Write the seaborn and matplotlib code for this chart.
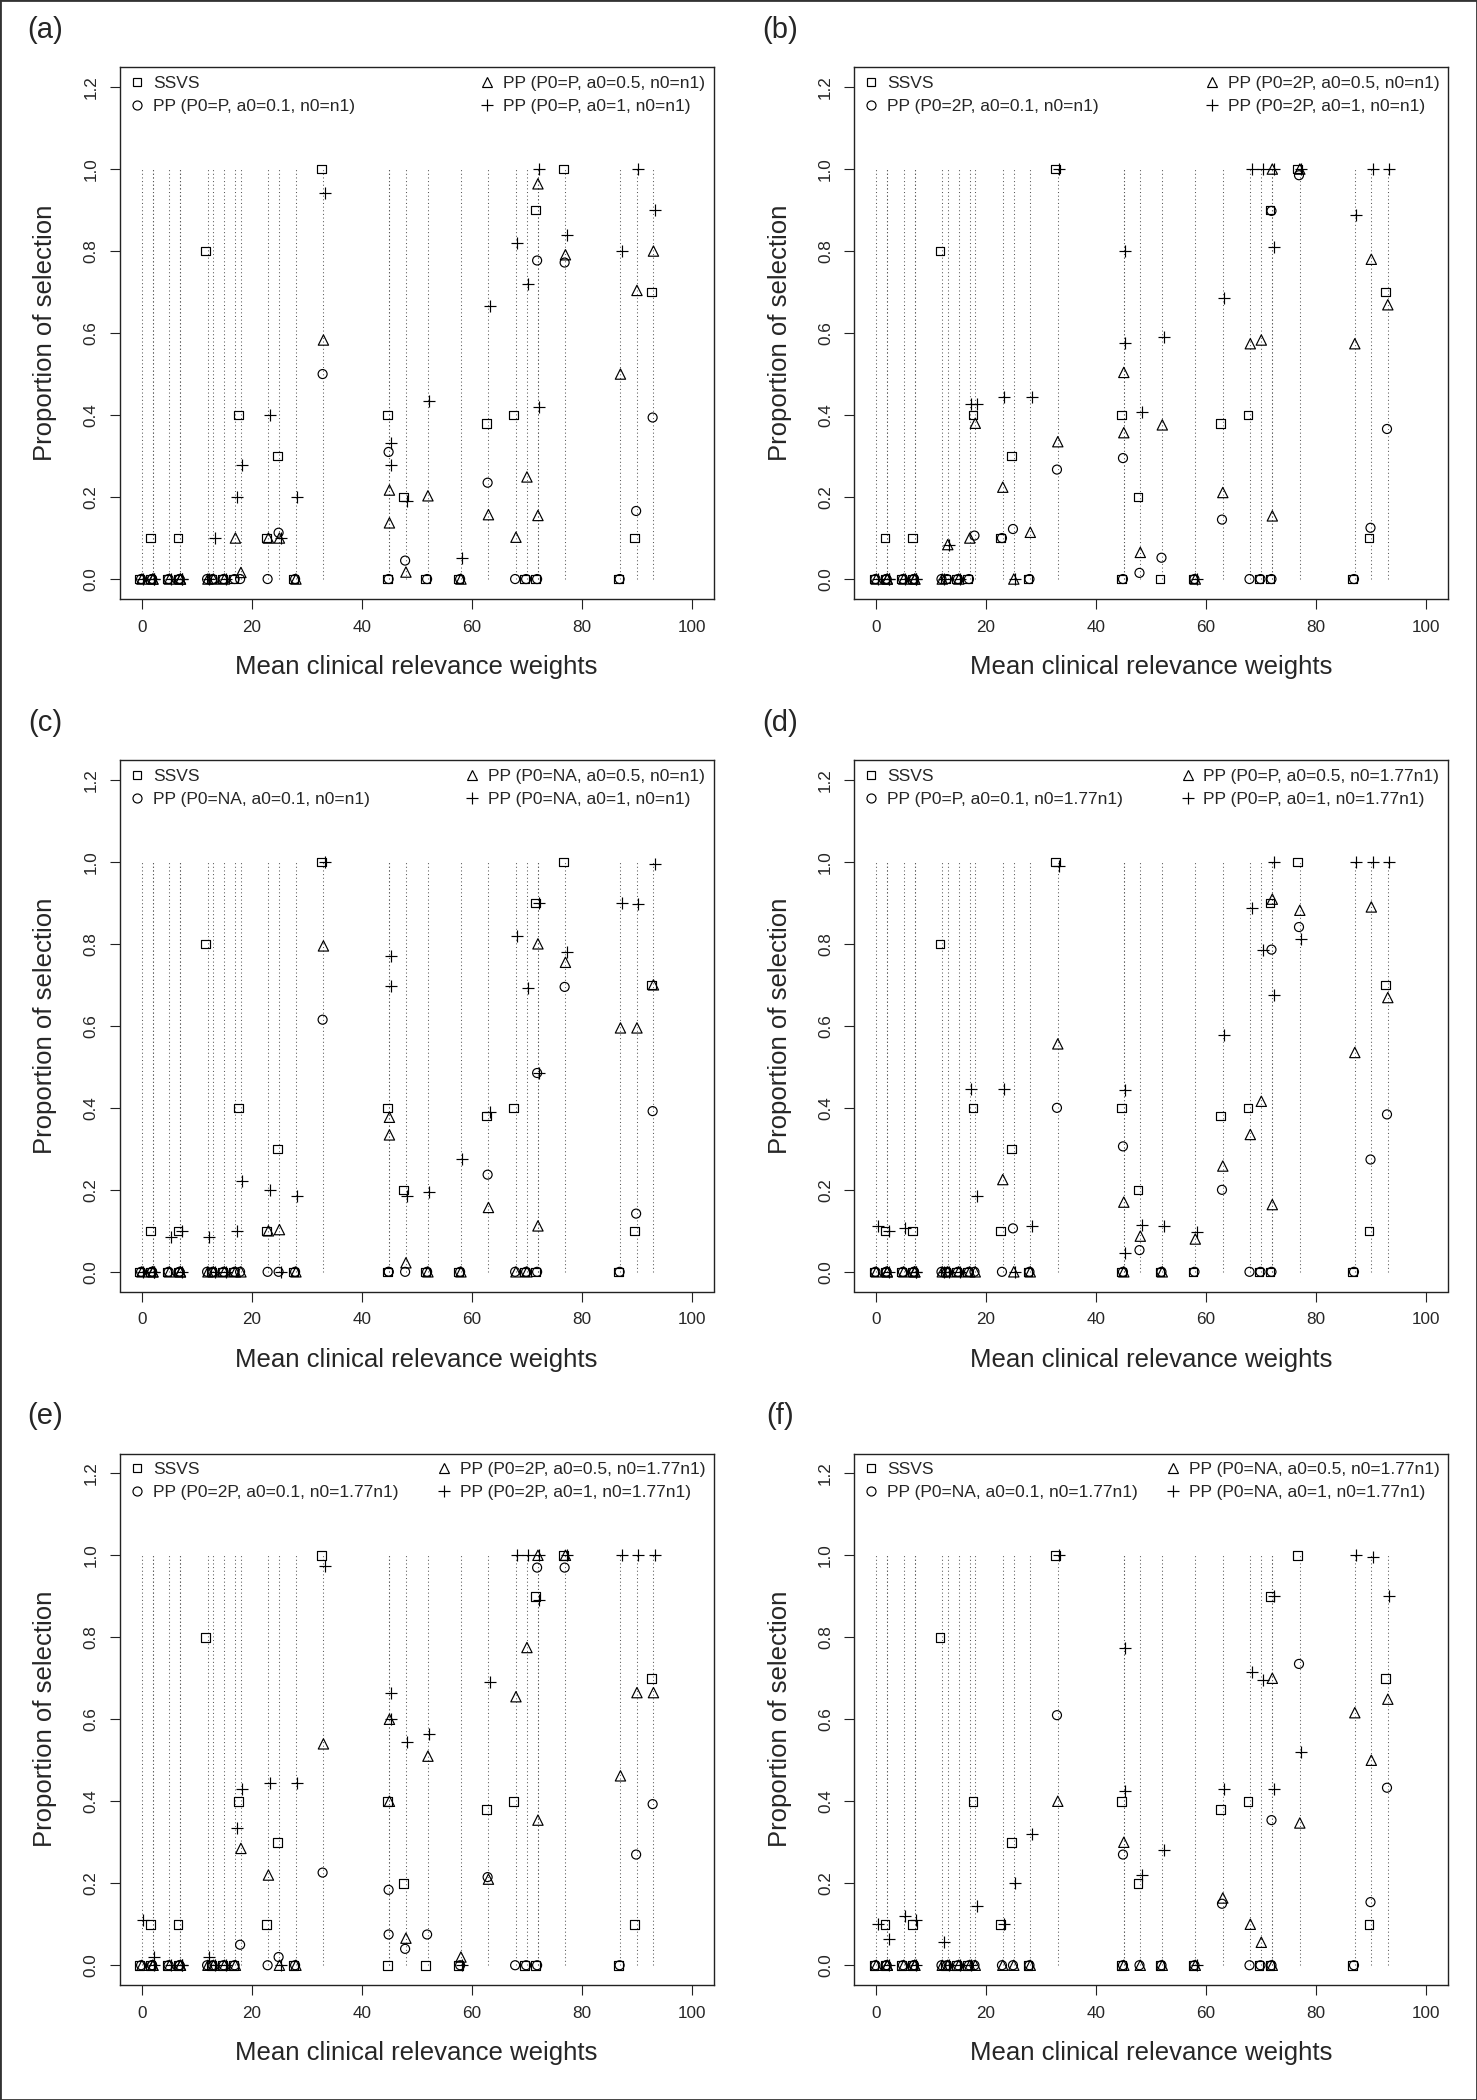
import matplotlib
matplotlib.use("Agg")
import matplotlib.pyplot as plt
from matplotlib.lines import Line2D
from matplotlib.patches import Rectangle
import numpy as np
import seaborn as sns

# variable positions (mean clinical relevance weight); some weights occur twice
weights = [0, 2, 2, 5, 7, 7, 12, 13, 15, 17, 18, 23, 25, 28, 33,
           45, 45, 48, 52, 58, 63, 68, 70, 72, 72, 77, 87, 90, 93]

# SSVS is the same in every panel
ssvs = [0, 0.1, 0, 0, 0.1, 0, 0.8, 0, 0, 0, 0.4, 0.1, 0.3, 0, 1.0,
        0.4, 0, 0.2, 0, 0, 0.38, 0.4, 0, 0.9, 0, 1.0, 0, 0.1, 0.7]

# (a) P0=P, n0=n1
pp01_a = [0, 0, 0, 0, 0, 0, 0, 0, 0, 0, 0, 0, 0.113, 0, 0.5,
          0.31, 0, 0.045, 0, 0, 0.235, 0, 0, 0.777, 0, 0.772, 0, 0.166, 0.394]
pp05_a = [0, 0, 0, 0, 0, 0, 0, 0, 0, 0.1, 0.016, 0.1, 0.1, 0, 0.583,
          0.217, 0.137, 0.017, 0.203, 0, 0.157, 0.102, 0.249, 0.964, 0.155, 0.791, 0.5, 0.704, 0.8]
pp1_a = [0, 0, 0, 0, 0, 0, 0, 0.1, 0, 0.2, 0.278, 0.4, 0.1, 0.2, 0.941,
         0.332, 0.278, 0.19, 0.435, 0.052, 0.667, 0.82, 0.72, 1.0, 0.419, 0.839, 0.8, 1.0, 0.9]

# (b) P0=2P, n0=n1
pp01_b = [0, 0, 0, 0, 0, 0, 0, 0, 0, 0, 0.106, 0.1, 0.122, 0, 0.267,
          0.295, 0, 0.015, 0.052, 0, 0.145, 0, 0, 0.898, 0, 0.985, 0, 0.125, 0.366]
pp05_b = [0, 0, 0, 0, 0, 0, 0, 0.084, 0, 0.1, 0.38, 0.224, 0, 0.114, 0.335,
          0.504, 0.357, 0.065, 0.376, 0, 0.211, 0.574, 0.583, 1.0, 0.154, 1.0, 0.574, 0.78, 0.669]
pp1_b = [0, 0, 0, 0, 0, 0, 0, 0.084, 0, 0.426, 0.426, 0.444, 0, 0.444, 1.0,
         0.8, 0.575, 0.407, 0.591, 0, 0.686, 1.0, 1.0, 1.0, 0.809, 1.0, 0.889, 1.0, 1.0]

# (c) P0=NA, n0=n1
pp01_c = [0, 0, 0, 0, 0, 0, 0, 0, 0, 0, 0, 0, 0, 0, 0.615,
          0, 0, 0, 0, 0, 0.237, 0, 0, 0.485, 0, 0.695, 0, 0.142, 0.392]
pp05_c = [0, 0, 0, 0, 0, 0, 0, 0, 0, 0, 0, 0.1, 0.103, 0, 0.795,
          0.377, 0.334, 0.022, 0, 0, 0.157, 0, 0, 0.8, 0.112, 0.755, 0.595, 0.595, 0.7]
pp1_c = [0, 0, 0, 0.085, 0.1, 0, 0.084, 0, 0, 0.1, 0.222, 0.2, 0, 0.184, 1.0,
         0.771, 0.697, 0.184, 0.195, 0.276, 0.39, 0.818, 0.692, 0.9, 0.485, 0.78, 0.9, 0.897, 0.996]

# (d) P0=P, n0=1.77n1
pp01_d = [0, 0, 0, 0, 0, 0, 0, 0, 0, 0, 0, 0, 0.106, 0, 0.4,
          0.306, 0, 0.053, 0, 0, 0.2, 0, 0, 0.786, 0, 0.841, 0, 0.274, 0.384]
pp05_d = [0, 0, 0, 0, 0, 0, 0, 0, 0, 0, 0, 0.225, 0, 0, 0.556,
          0.17, 0, 0.087, 0, 0.08, 0.258, 0.335, 0.416, 0.909, 0.164, 0.882, 0.535, 0.89, 0.669]
pp1_d = [0.111, 0.1, 0, 0.106, 0, 0, 0, 0, 0, 0.445, 0.184, 0.445, 0, 0.111, 0.99,
         0.444, 0.047, 0.115, 0.111, 0.096, 0.578, 0.888, 0.786, 1.0, 0.675, 0.812, 1.0, 1.0, 1.0]

# (e) P0=2P, n0=1.77n1
pp01_e = [0, 0, 0, 0, 0, 0, 0, 0, 0, 0, 0.05, 0, 0.02, 0, 0.226,
          0.184, 0.075, 0.04, 0.075, 0, 0.215, 0, 0, 0.97, 0, 0.97, 0, 0.27, 0.393]
pp05_e = [0, 0, 0, 0, 0, 0, 0, 0, 0, 0, 0.285, 0.22, 0, 0, 0.54,
          0.6, 0.4, 0.066, 0.51, 0.02, 0.21, 0.655, 0.775, 1.0, 0.354, 1.0, 0.462, 0.665, 0.665]
pp1_e = [0.11, 0.02, 0, 0, 0, 0, 0.02, 0, 0, 0.335, 0.43, 0.445, 0, 0.445, 0.975,
         0.665, 0.6, 0.545, 0.565, 0, 0.69, 1.0, 1.0, 1.0, 0.89, 1.0, 1.0, 1.0, 1.0]

# (f) P0=NA, n0=1.77n1
pp01_f = [0, 0, 0, 0, 0, 0, 0, 0, 0, 0, 0, 0, 0, 0, 0.61,
          0.27, 0, 0, 0, 0, 0.15, 0, 0, 0.354, 0, 0.735, 0, 0.154, 0.433]
pp05_f = [0, 0, 0, 0, 0, 0, 0, 0, 0, 0, 0, 0, 0, 0, 0.4,
          0.3, 0, 0, 0, 0, 0.164, 0.1, 0.056, 0.7, 0, 0.347, 0.616, 0.5, 0.649]
pp1_f = [0.1, 0.065, 0, 0.12, 0.11, 0, 0.056, 0, 0, 0, 0.144, 0.1, 0.2, 0.32, 1.0,
         0.774, 0.426, 0.22, 0.28, 0, 0.43, 0.715, 0.695, 0.9, 0.43, 0.52, 1.0, 0.995, 0.9]

panels = [
    ("(a)", "P", "n1", pp01_a, pp05_a, pp1_a),
    ("(b)", "2P", "n1", pp01_b, pp05_b, pp1_b),
    ("(c)", "NA", "n1", pp01_c, pp05_c, pp1_c),
    ("(d)", "P", "1.77n1", pp01_d, pp05_d, pp1_d),
    ("(e)", "2P", "1.77n1", pp01_e, pp05_e, pp1_e),
    ("(f)", "NA", "1.77n1", pp01_f, pp05_f, pp1_f),
]

sns.set_style("ticks")
plt.rcParams['font.family'] = ['Liberation Sans', 'DejaVu Sans']
plt.rcParams['axes.linewidth'] = 1.0
plt.rcParams['axes.edgecolor'] = '#222222'

fig = plt.figure(figsize=(14.77, 21), dpi=100)

lefts = [0.0810, 0.5782]
bottoms = [0.7149, 0.3850, 0.0548]
w, h = 0.4022, 0.2530

x = np.array(weights, dtype=float)
lw = 0.85

for i, (tag, p0, n0, pp01, pp05, pp1) in enumerate(panels):
    ax = fig.add_axes([lefts[i % 2], bottoms[i // 2], w, h])

    ax.vlines(x, 0, 1, colors='0.35', linestyles=(0, (1, 2.5)), linewidth=0.75, zorder=1)

    # small horizontal offsets keep overlapping symbols apart
    sns.scatterplot(x=x - 0.35, y=ssvs, marker='s', s=38, facecolor='none',
                    edgecolor='black', linewidth=lw, ax=ax, legend=False, zorder=3)
    sns.scatterplot(x=x - 0.1, y=pp01, marker='o', s=42, facecolor='none',
                    edgecolor='black', linewidth=lw, ax=ax, legend=False, zorder=3)
    sns.scatterplot(x=x + 0.05, y=pp05, marker='^', s=55, facecolor='none',
                    edgecolor='black', linewidth=lw, ax=ax, legend=False, zorder=3)
    sns.scatterplot(x=x + 0.3, y=pp1, marker='+', s=75, color='black',
                    linewidth=lw, ax=ax, legend=False, zorder=3)

    ax.set_xlim(-4, 104)
    ax.set_ylim(-0.048, 1.248)
    ax.set_xticks([0, 20, 40, 60, 80, 100])
    ax.set_yticks([0, 0.2, 0.4, 0.6, 0.8, 1.0, 1.2])
    ax.set_yticklabels(['0.0', '0.2', '0.4', '0.6', '0.8', '1.0', '1.2'], va='center')
    ax.tick_params(direction='out', length=7, width=0.8, labelsize=12.3, pad=8, color='#222222')
    ax.tick_params(axis='y', labelrotation=90)
    for sp in ax.spines.values():
        sp.set_visible(True)

    ax.set_xlabel('Mean clinical relevance weights', fontsize=18.5)
    ax.xaxis.label.set_va('center')
    ax.xaxis.set_label_coords(0.5, -0.128)
    ax.set_ylabel('Proportion of selection', fontsize=18.5)
    ax.yaxis.label.set_va('center')
    ax.yaxis.set_label_coords(-0.125, 0.5)

    ax.text(-0.125, 1.07, tag, transform=ax.transAxes, fontsize=21,
            ha='center', va='center')

    ms_kw = dict(ls='none', color='black', mfc='none', mew=lw)
    h_sq = Line2D([], [], marker='s', ms=6.2, **ms_kw)
    h_ci = Line2D([], [], marker='o', ms=6.5, **ms_kw)
    h_tr = Line2D([], [], marker='^', ms=7.4, **ms_kw)
    h_pl = Line2D([], [], marker='+', ms=8.7, **ms_kw)
    leg_kw = dict(frameon=False, fontsize=12.5, handlelength=1.0, handletextpad=0.42,
                  borderaxespad=0.3, borderpad=0.2, labelspacing=0.45)
    leg1 = ax.legend([h_sq, h_ci], ['SSVS', f'PP (P0={p0}, a0=0.1, n0={n0})'],
                     loc='upper left', **leg_kw)
    ax.add_artist(leg1)
    ax.legend([h_tr, h_pl], [f'PP (P0={p0}, a0=0.5, n0={n0})', f'PP (P0={p0}, a0=1, n0={n0})'],
              loc='upper right', **leg_kw)

fig.add_artist(Rectangle((0, 0), 1, 1, transform=fig.transFigure, fill=False,
                         lw=2.0, ec='#333333'))

fig.savefig('out.png', dpi=100)
